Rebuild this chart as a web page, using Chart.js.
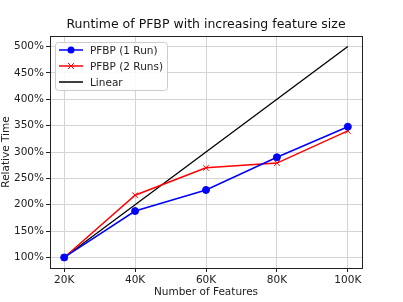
<!DOCTYPE html>
<html>
<head>
<meta charset="utf-8">
<script src="https://cdn.jsdelivr.net/npm/chart.js@4"></script>
<style>
  html, body { margin: 0; padding: 0; background: #fff; }
  #wrap { width: 403px; height: 302px; }
</style>
</head>
<body>
<div id="wrap"><canvas id="c" width="403" height="302"></canvas></div>
<script>
// data
const features = [20000, 40000, 60000, 80000, 100000];
const oneRun = [100, 188, 228, 290, 348];
const twoRuns = [100, 218, 270, 279, 340];
const linear = [100, 200, 300, 400, 500];
const xTicks = [20000, 40000, 60000, 80000, 100000];
const yTicks = [100, 150, 200, 250, 300, 350, 400, 450, 500];
const titleText = "Runtime of PFBP with increasing feature size";

const FONT = "'DejaVu Sans', sans-serif";
const pts = ys => features.map((x, i) => ({ x: x, y: ys[i] }));

// matplotlib style box around the plot, plus the title centred over it
const framePlugin = {
    id: "frame",
    afterDatasetsDraw(chart) {
        const a = chart.chartArea, ctx = chart.ctx;
        ctx.save();
        ctx.strokeStyle = "#222";
        ctx.lineWidth = 1;
        ctx.strokeRect(Math.round(a.left) + 0.5, Math.round(a.top) + 0.5,
            Math.round(a.right - a.left), Math.round(a.bottom - a.top));
        ctx.fillStyle = "#111";
        ctx.font = "12.5px " + FONT;
        ctx.textAlign = "center";
        ctx.textBaseline = "middle";
        ctx.fillText(titleText, (a.left + a.right) / 2, a.top - 11);
        ctx.restore();
    }
};

// legend drawn inside the plot, upper left
const innerLegend = {
    id: "innerLegend",
    afterDraw(chart) {
        const ctx = chart.ctx, a = chart.chartArea;
        const x0 = a.left + 5, y0 = a.top + 6, w = 112, h = 48;
        ctx.save();
        ctx.fillStyle = "rgba(255,255,255,0.85)";
        ctx.strokeStyle = "#ccc";
        ctx.lineWidth = 1;
        ctx.beginPath();
        ctx.roundRect(x0 + 0.5, y0 + 0.5, w, h, 3);
        ctx.fill();
        ctx.stroke();
        ctx.font = "10.5px " + FONT;
        ctx.textBaseline = "middle";
        chart.data.datasets.forEach((ds, i) => {
            const y = y0 + 8 + i * 16;
            ctx.strokeStyle = ds.borderColor;
            ctx.lineWidth = 1.5;
            ctx.beginPath();
            ctx.moveTo(x0 + 4, y);
            ctx.lineTo(x0 + 28, y);
            ctx.stroke();
            if (ds.pointStyle === "circle") {
                ctx.fillStyle = ds.borderColor;
                ctx.beginPath();
                ctx.arc(x0 + 16, y, 3.5, 0, Math.PI * 2);
                ctx.fill();
            } else if (ds.pointStyle === "crossRot") {
                ctx.lineWidth = 1;
                ctx.beginPath();
                ctx.moveTo(x0 + 13, y - 3); ctx.lineTo(x0 + 19, y + 3);
                ctx.moveTo(x0 + 19, y - 3); ctx.lineTo(x0 + 13, y + 3);
                ctx.stroke();
            }
            ctx.fillStyle = "#222";
            ctx.fillText(ds.label, x0 + 35, y + 1);
        });
        ctx.restore();
    }
};

new Chart(document.getElementById("c"), {
    type: "line",
    data: {
        datasets: [
            { label: "PFBP (1 Run)", data: pts(oneRun), borderColor: "#0000ff", backgroundColor: "#0000ff",
              borderWidth: 1.5, pointStyle: "circle", pointRadius: 3.5, pointBorderWidth: 1 },
            { label: "PFBP (2 Runs)", data: pts(twoRuns), borderColor: "#ff0000", backgroundColor: "#ff0000",
              borderWidth: 1.5, pointStyle: "crossRot", pointRadius: 4, pointBorderWidth: 1 },
            { label: "Linear", data: pts(linear), borderColor: "#000000", backgroundColor: "#000000",
              borderWidth: 1.3, pointRadius: 0 }
        ]
    },
    options: {
        responsive: false,
        animation: false,
        layout: { padding: { left: 0, right: 41, top: 36, bottom: 0 } },
        plugins: {
            legend: { display: false },
            tooltip: { enabled: false },
            title: { display: false }
        },
        scales: {
            x: {
                type: "linear",
                min: 16000,
                max: 104000,
                afterBuildTicks: s => { s.ticks = xTicks.map(v => ({ value: v })); },
                afterFit: s => { s.height = 34; },
                ticks: {
                    callback: v => (v / 1000) + "K",
                    color: "#222",
                    font: { family: FONT, size: 10.5 },
                    padding: 2,
                    maxRotation: 0
                },
                grid: { color: "#d4d4d4", tickColor: "#222", tickLength: 4 },
                border: { display: false },
                title: {
                    display: true,
                    text: "Number of Features",
                    color: "#222",
                    font: { family: FONT, size: 10.5 },
                    padding: { top: 0, bottom: 3 }
                }
            },
            y: {
                min: 80,
                max: 520,
                afterBuildTicks: s => { s.ticks = yTicks.map(v => ({ value: v })); },
                afterFit: s => { s.width = 50; },
                ticks: {
                    callback: v => v + "%",
                    color: "#222",
                    font: { family: FONT, size: 10.5 },
                    padding: 2
                },
                grid: { color: "#d4d4d4", tickColor: "#222", tickLength: 4 },
                border: { display: false },
                title: {
                    display: true,
                    text: "Relative Time",
                    color: "#222",
                    font: { family: FONT, size: 10.5 },
                    padding: { top: 0, bottom: 0 }
                }
            }
        }
    },
    plugins: [framePlugin, innerLegend]
});
</script>
</body>
</html>
